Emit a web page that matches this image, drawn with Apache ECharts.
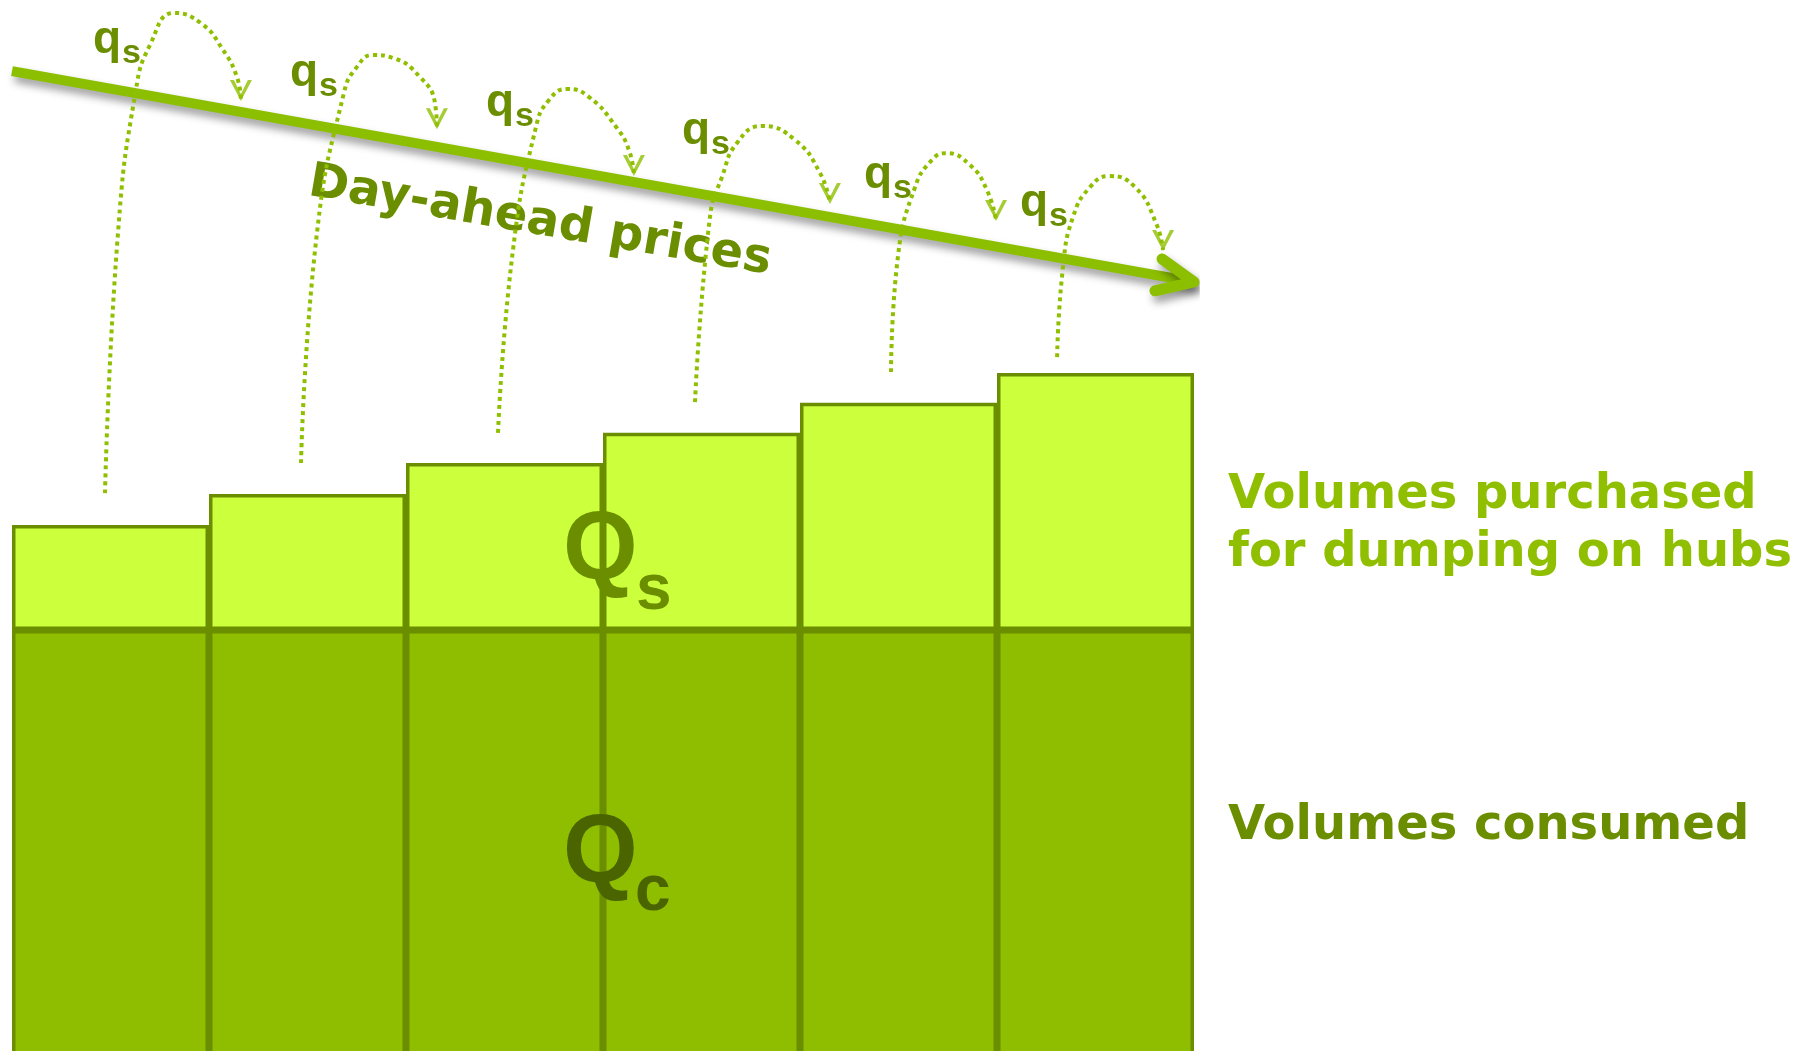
<!DOCTYPE html>
<html>
<head>
<meta charset="utf-8">
<script src="https://cdn.jsdelivr.net/npm/echarts@6/dist/echarts.min.js"></script>
<style>
html, body { margin: 0; padding: 0; background: #fff; }
#chart { width: 1793px; height: 1051px; }
</style>
</head>
<body>
<div id="chart"></div>
<script>
// periods (one bar each)
var periods = ['1', '2', '3', '4', '5', '6'];
// Qc : volumes consumed, Qs : volumes purchased for dumping (Qc = 100)
var consumed = [100, 100, 100, 100, 100, 100];
var dumped = [24.7, 32.0, 39.3, 46.4, 53.5, 60.5];

// day-ahead price arrow, on the hidden value x axis (0..6 = the six bars)
var priceArrow = [[0, 231.5], [6, 181.9]];
var arrowHead = [[5.838, 187.3], [6, 181.9], [5.802, 179.8]];

// dotted q_s jumps, one per period
var arc1 = [[0.472, 132.2], [0.538, 193.4], [0.629, 227.1], [0.700, 237.6], [0.822, 245.2], [0.959, 242.8], [1.071, 236.5], [1.142, 230.1], [1.162, 224.7]];
var arc2 = [[1.467, 139.3], [1.548, 193.4], [1.685, 226.4], [1.751, 232.5], [1.832, 235.3], [1.934, 234.6], [2.071, 230.1], [2.147, 224.0], [2.157, 218.1]];
var arc3 = [[2.467, 146.4], [2.543, 189.4], [2.660, 218.4], [2.726, 224.7], [2.817, 227.3], [2.929, 225.4], [3.066, 218.4], [3.132, 212.9], [3.157, 207.1]];
var arc4 = [[3.467, 153.6], [3.543, 197.2], [3.604, 206.6], [3.680, 214.6], [3.807, 218.6], [3.975, 215.3], [4.102, 207.5], [4.152, 200.5]];
var arc5 = [[4.462, 160.7], [4.497, 187.8], [4.584, 204.2], [4.670, 210.6], [4.741, 212.2], [4.863, 209.4], [4.949, 203.5], [4.995, 196.5]];
var arc6 = [[5.305, 164.2], [5.335, 185.4], [5.386, 197.2], [5.472, 204.2], [5.569, 206.8], [5.701, 204.2], [5.807, 195.8], [5.843, 189.4]];
var arcs = [arc1, arc2, arc3, arc4, arc5, arc6];

var dark = '#6b8e00';
var bright = '#8fbf00';

var myChart = echarts.init(document.getElementById('chart'));

// spots of the little q_s labels (left of q, baseline) in px
var qSpots = [[95, 52], [292, 85], [488, 115], [684, 143], [866, 187], [1022, 215]];
var dy = 6; // baseline fix for 'middle' alignment

var graphics = [];
qSpots.forEach(function (p) {
    graphics.push({
        type: 'text', x: p[0] - 2, y: p[1] - 15.7 + dy - 2, z: 10,
        style: { text: 'q', fontFamily: 'Liberation Sans', fontWeight: 'bold', fontSize: 46, fill: dark, verticalAlign: 'middle' }
    });
    graphics.push({
        type: 'text', x: p[0] + 27, y: p[1] + 10 - 11.9 + dy - 2, z: 10,
        style: { text: 's', fontFamily: 'Liberation Sans', fontWeight: 'bold', fontSize: 34, fill: dark, verticalAlign: 'middle' }
    });
});

graphics.push(
    {
        type: 'text', x: 540, y: 216 + dy, rotation: -0.17, z: 1,
        style: { text: 'Day-ahead prices', fontFamily: 'DejaVu Sans', fontWeight: 'bold', fontSize: 48, fill: dark, align: 'center', verticalAlign: 'middle' }
    },
    // Q_s / Q_c
    { type: 'text', x: 563, y: 547 + dy, z: 10, style: { text: 'Q', fontFamily: 'Liberation Sans', fontWeight: 'bold', fontSize: 96, fill: dark, verticalAlign: 'middle' } },
    { type: 'text', x: 636, y: 585 + dy, z: 10, style: { text: 's', fontFamily: 'Liberation Sans', fontWeight: 'bold', fontSize: 64, fill: dark, verticalAlign: 'middle' } },
    { type: 'text', x: 563, y: 850 + dy, z: 10, style: { text: 'Q', fontFamily: 'Liberation Sans', fontWeight: 'bold', fontSize: 96, fill: '#4a6400', verticalAlign: 'middle' } },
    { type: 'text', x: 635, y: 886 + dy, z: 10, style: { text: 'c', fontFamily: 'Liberation Sans', fontWeight: 'bold', fontSize: 64, fill: '#4a6400', verticalAlign: 'middle' } },
    // right hand legend text
    { type: 'text', x: 1228, y: 490 + dy, style: { text: 'Volumes purchased', fontFamily: 'DejaVu Sans', fontWeight: 'bold', fontSize: 48, fill: bright, verticalAlign: 'middle' } },
    { type: 'text', x: 1228, y: 548 + dy, style: { text: 'for dumping on hubs', fontFamily: 'DejaVu Sans', fontWeight: 'bold', fontSize: 48, fill: bright, verticalAlign: 'middle' } },
    { type: 'text', x: 1228, y: 821 + dy, style: { text: 'Volumes consumed', fontFamily: 'DejaVu Sans', fontWeight: 'bold', fontSize: 48, fill: dark, verticalAlign: 'middle' } }
);

var arrowShadow = {
    shadowColor: 'rgba(0,0,0,0.4)',
    shadowBlur: 8,
    shadowOffsetX: 3,
    shadowOffsetY: 6
};

var series = [
    {
        name: 'Qc', type: 'bar', stack: 'vol', data: consumed,
        barCategoryGap: 0,
        itemStyle: { color: '#8fbd00', borderColor: dark, borderWidth: 3.5 }
    },
    {
        name: 'Qs', type: 'bar', stack: 'vol', data: dumped,
        barCategoryGap: 0,
        itemStyle: { color: '#ccff3c', borderColor: dark, borderWidth: 3.5 }
    },
    {
        type: 'line', xAxisIndex: 1, data: priceArrow, symbol: 'none', z: 1,
        lineStyle: Object.assign({ color: '#8cbf00', width: 10, cap: 'butt' }, arrowShadow)
    },
    {
        type: 'line', xAxisIndex: 1, data: arrowHead, symbol: 'none', z: 1,
        lineStyle: Object.assign({ color: '#8cbf00', width: 11, cap: 'round', join: 'round' }, arrowShadow)
    }
];

arcs.forEach(function (arc) {
    series.push({
        type: 'line', xAxisIndex: 1, data: arc, symbol: 'none', smooth: 0.5, z: 3,
        lineStyle: { color: bright, width: 4, type: [4, 4] }
    });
});

// small open arrow heads at the end of each jump
series.push({
    type: 'scatter', xAxisIndex: 1, z: 3,
    data: arcs.map(function (a) { return a[a.length - 1]; }),
    symbol: 'path://M0,0 L4,0 L11,14 L18,0 L22,0 L11,21 Z',
    symbolSize: [22, 21],
    symbolOffset: [0, '-45%'],
    itemStyle: { color: bright }
});

var option = {
    animation: false,
    backgroundColor: '#ffffff',
    grid: { left: 12, right: 599, top: 1, bottom: -4, containLabel: false, outerBoundsMode: 'none' },
    xAxis: [
        { type: 'category', data: periods, show: false },
        { type: 'value', min: 0, max: 6, show: false }
    ],
    yAxis: { type: 'value', min: 0, max: 248, show: false, splitLine: { show: false } },
    tooltip: { show: false },
    series: series,
    graphic: graphics
};

myChart.setOption(option);
</script>
</body>
</html>
